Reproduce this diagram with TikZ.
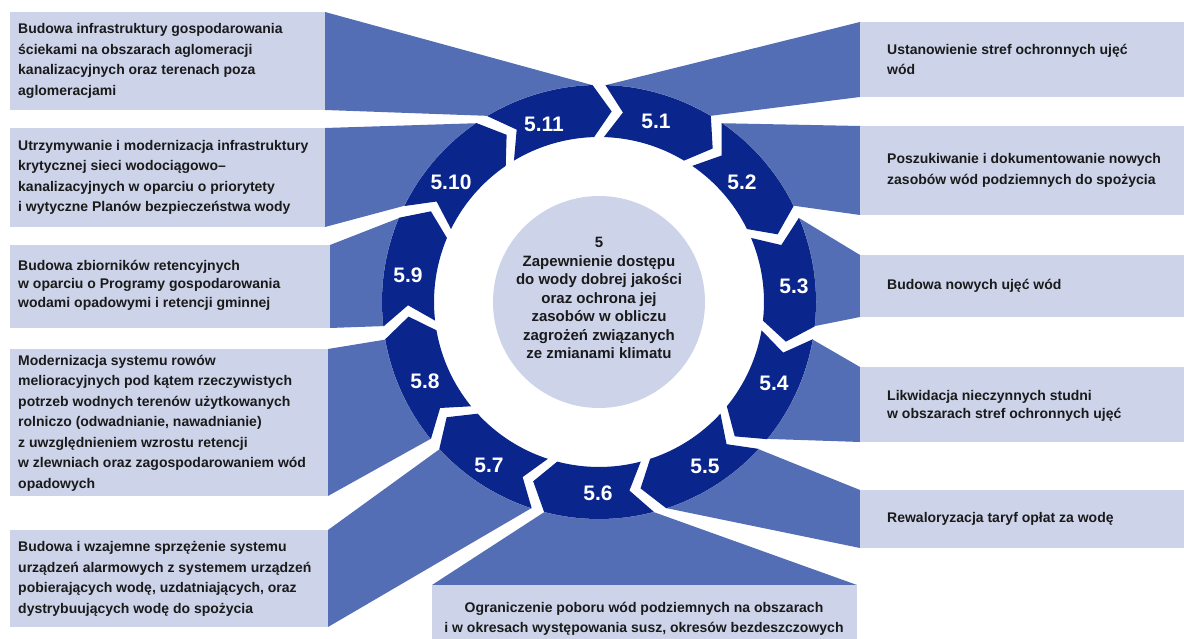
\documentclass[tikz,border=0pt]{standalone}
\usepackage{fontspec}
\setmainfont{Liberation Sans}
\usetikzlibrary{calc}
\definecolor{boxc}{HTML}{CDD4EA}
\definecolor{fanc}{HTML}{546EB5}
\definecolor{ringc}{HTML}{0A268C}
\definecolor{txtc}{HTML}{1A1A1A}
\begin{document}
\begin{tikzpicture}[x=1pt,y=1pt,
  boxstyle/.style={fill=boxc},
  btext/.style={text=txtc, font=\bfseries\fontsize{14}{20.5}\selectfont, align=left, anchor=west, inner sep=0pt},
  btextb/.style={btext, font=\bfseries\fontsize{14}{18.5}\selectfont},
  seglabel/.style={text=white, font=\bfseries\fontsize{21}{21}\selectfont, inner sep=0pt},
  ctext/.style={text=txtc, font=\bfseries\fontsize{15}{18.5}\selectfont, align=center, inner sep=0pt}]
\useasboundingbox (0,0) rectangle (1184,639);
\coordinate (C) at (599,337);
% fans
\foreach \px/\py/\qx/\qy/\i in {860/617/860/542/1, 860/513/860/424/2, 860/384/860/322/3, 860/272/860/197/4, 860/149/860/91/5, 857/54/432/54/6, 328/12/328/109/7, 328/143/328/290/8, 330/311/330/394/9, 325/412/325/511/10, 325/529/325/627/11}{
  \pgfmathsetmacro\aa{90-(\i-1)*360/11-1.8}
  \pgfmathsetmacro\bb{90-\i*360/11+1.8}
  \fill[fanc] (\px,\py) -- ($(C)+(\aa:217pt)$) -- (C) -- ($(C)+(\bb:217pt)$) -- (\qx,\qy) -- cycle;
}
\fill[white] (C) circle (217pt);
% boxes
\fill[boxstyle] (10,529) rectangle (325,627);
\fill[boxstyle] (10,412) rectangle (325,511);
\fill[boxstyle] (10,311) rectangle (330,394);
\fill[boxstyle] (10,143) rectangle (328,290);
\fill[boxstyle] (10,12) rectangle (328,109);
\fill[boxstyle] (860,542) rectangle (1184,617);
\fill[boxstyle] (860,424) rectangle (1184,513);
\fill[boxstyle] (860,322) rectangle (1184,384);
\fill[boxstyle] (860,197) rectangle (1184,272);
\fill[boxstyle] (860,91) rectangle (1184,149);
\fill[boxstyle] (432,0) rectangle (857,54);
% ring segments
\foreach \i in {1,...,11}{
  \pgfmathsetmacro\ag{90-(\i-1)*360/11-1.7}
  \pgfmathsetmacro\bg{90-\i*360/11+1.7}
  \pgfmathsetmacro\tip{\bg-5.5}
  \pgfmathsetmacro\notch{\ag-5.5}
  \fill[ringc] ($(C)+(\ag:217pt)$) arc[start angle=\ag, end angle=\bg, radius=217pt] -- ($(C)+(\tip:191pt)$) -- ($(C)+(\bg:165pt)$) arc[start angle=\bg, end angle=\ag, radius=165pt] -- ($(C)+(\notch:191pt)$) -- cycle;
}
\foreach \lx/\ly/\i in {656/518/1, 742/457/2, 794/353/3, 774/256/4, 705/173/5, 598/146/6, 489/174/7, 425/258/8, 408/364/9, 451/457/10, 544/515/11}{
  \node[seglabel] (s\i) at (\lx,\ly) {5.\i};
}
\fill[boxc] (C) circle (106pt);
\node[ctext] (center) at (599,341) {5\\Zapewnienie dostępu\\do wody dobrej jakości\\oraz ochrona jej\\zasobów w obliczu\\zagrożeń związanych\\ze zmianami klimatu};
% texts
\node[btext] (t11) at (18,578) {Budowa infrastruktury gospodarowania\\ściekami na obszarach aglomeracji\\kanalizacyjnych oraz terenach poza\\aglomeracjami};
\node[btext] (t10) at (18,461.5) {Utrzymywanie i modernizacja infrastruktury\\krytycznej sieci wodociągowo–\\kanalizacyjnych w oparciu o priorytety\\i wytyczne Planów bezpieczeństwa wody};
\node[btextb] (t9) at (18,354) {Budowa zbiorników retencyjnych\\w oparciu o Programy gospodarowania\\wodami opadowymi i retencji gminnej};
\node[btext] (t8) at (18,216) {Modernizacja systemu rowów\\melioracyjnych pod kątem rzeczywistych\\potrzeb wodnych terenów użytkowanych\\rolniczo (odwadnianie, nawadnianie)\\z uwzględnieniem wzrostu retencji\\w zlewniach oraz zagospodarowaniem wód\\opadowych};
\node[btext] (t7) at (18,60) {Budowa i wzajemne sprzężenie systemu\\urządzeń alarmowych z systemem urządzeń\\pobierających wodę, uzdatniających, oraz\\dystrybuujących wodę do spożycia};
\node[btext] (t1) at (887,579.5) {Ustanowienie stref ochronnych ujęć\\wód};
\node[btext] (t2) at (887,468.5) {Poszukiwanie i dokumentowanie nowych\\zasobów wód podziemnych do spożycia};
\node[btext] (t3) at (887,353) {Budowa nowych ujęć wód};
\node[btextb] (t4) at (887,233) {Likwidacja nieczynnych studni\\w obszarach stref ochronnych ujęć};
\node[btext] (t5) at (887,120) {Rewaloryzacja taryf opłat za wodę};
\node[btext, align=center, anchor=center] (t6) at (644,20) {Ograniczenie poboru wód podziemnych na obszarach\\i w okresach występowania susz, okresów bezdeszczowych};
\end{tikzpicture}
\end{document}
